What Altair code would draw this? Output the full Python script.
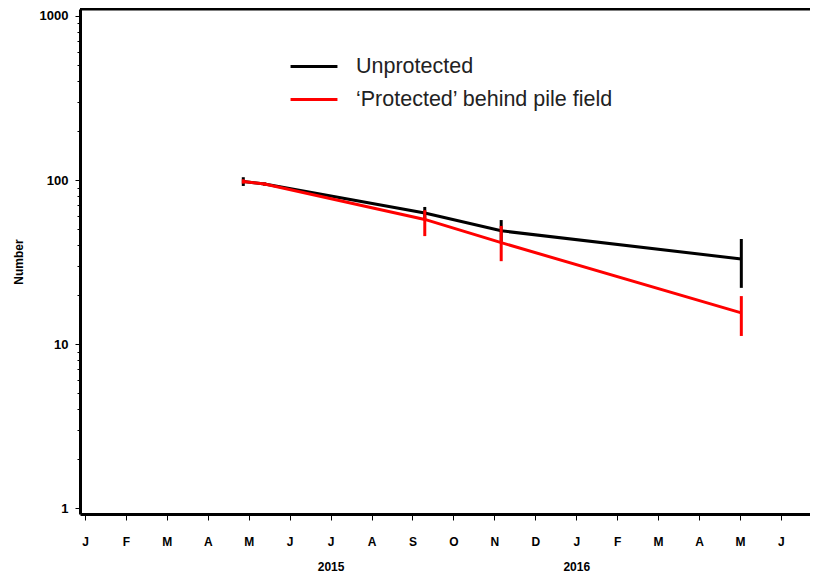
import altair as alt
import pandas as pd
import calendar

# ---- data ----
sample_dates = ["2015-04-27", "2015-05-13", "2015-09-10", "2015-11-06", "2016-05-02"]
series_names = ["Unprotected", "\u2018Protected\u2019 behind pile field"]
series_colors = ["#000000", "#ff0000"]

unprotected_mean = [98, 94.5, 63, 49, 33]
unprotected_lo = [92, 92.5, 57.5, 42, 22]
unprotected_hi = [104, 96.5, 68.5, 57, 43.7]

protected_mean = [98, 94.5, 57.5, 41.5, 15.5]
protected_lo = [95, 92.5, 45.5, 32, 11.2]
protected_hi = [101, 96.5, 65.5, 52.5, 19.6]

month_letters = ["J", "F", "M", "A", "M", "J", "J", "A", "S", "O", "N", "D"]
year_labels = {6: "2015", 12: "2016"}   # tick index -> year text under it
x_tick_values = list(range(0, 18))
y_tick_values = [m * 10 ** e for e in range(0, 3) for m in range(1, 10)] + [1000]
y_major = [1, 10, 100, 1000]


def month_index(d):
    y, m, day = (int(p) for p in d.split("-"))
    ndays = calendar.monthrange(y, m)[1]
    return (y - 2015) * 12 + (m - 1) + (day - 1) / ndays


rows = []
for name, mean, lo, hi in [
    (series_names[0], unprotected_mean, unprotected_lo, unprotected_hi),
    (series_names[1], protected_mean, protected_lo, protected_hi),
]:
    for d, v, l, h in zip(sample_dates, mean, lo, hi):
        rows.append({"series": name, "t": month_index(d), "value": v, "lo": l, "hi": h})
df = pd.DataFrame(rows)

PLOT_W = 730
PLOT_H = 505

x_scale = alt.Scale(domain=[-0.122, 17.71], nice=False, zero=False)
y_scale = alt.Scale(type="log", domain=[0.92, 1103], nice=False)
color_scale = alt.Scale(domain=series_names, range=series_colors)

# x-axis label expression (month letters, with year on a second line)
letters = "[" + ",".join(f"'{c}'" for c in month_letters) + "]"
x_expr = f"{letters}[datum.value % 12]"
for idx, yr in year_labels.items():
    x_expr = f"datum.value == {idx} ? [{letters}[{idx % 12}], '{yr}'] : ({x_expr})"

major_list = "[" + ",".join(str(v) for v in y_major) + "]"
major_test = f"indexof({major_list}, datum.value) >= 0"

x_axis = alt.Axis(
    values=x_tick_values,
    labelExpr=x_expr,
    title=None,
    grid=False,
    domainColor="black",
    domainWidth=3,
    tickColor="black",
    tickWidth=1,
    tickSize=6,
    labelPadding=16,
    labelFont="Liberation Sans",
    labelFontWeight="bold",
    labelFontSize=12,
    labelColor="black",
    labelLineHeight=25,
    labelFlush=False,
    labelOverlap=False,
)
y_axis = alt.Axis(
    values=y_tick_values,
    labelExpr=f"{major_test} ? format(datum.value, 'd') : ''",
    title="Number",
    titleFont="Liberation Sans",
    titleFontWeight="bold",
    titleFontSize=12,
    titleColor="black",
    titlePadding=14,
    grid=False,
    domainColor="black",
    domainWidth=3,
    tickColor="black",
    tickWidth=1,
    tickSize={"condition": {"test": major_test, "value": 5}, "value": 3},
    labelPadding=7,
    labelFont="Liberation Sans",
    labelFontWeight="bold",
    labelFontSize=13,
    labelColor="black",
    labelOverlap=False,
    labelFlush=False,
)

base = alt.Chart(df)

legend = alt.Legend(
    title=None,
    orient="none",
    legendX=209,
    legendY=41,
    symbolType="stroke",
    symbolStrokeWidth=3,
    symbolSize=2200,
    labelFont="Liberation Sans",
    labelFontSize=21.5,
    labelColor="#222222",
    labelOffset=17,
    labelLimit=0,
    clipHeight=33,
    rowPadding=0,
)

layers = []
for i, name in enumerate(series_names):
    sub = base.transform_filter(alt.datum.series == name)
    line = sub.mark_line(strokeWidth=3).encode(
        x=alt.X("t:Q", scale=x_scale, axis=x_axis),
        y=alt.Y("value:Q", scale=y_scale, axis=y_axis),
        color=alt.Color("series:N", scale=color_scale, legend=legend),
    )
    err = sub.mark_rule(strokeWidth=3).encode(
        x=alt.X("t:Q", scale=x_scale),
        y=alt.Y("lo:Q", scale=y_scale),
        y2="hi:Q",
        color=alt.Color("series:N", scale=color_scale, legend=None),
    )
    layers += [line, err]

top_border = alt.Chart(pd.DataFrame({"a": [0]})).mark_rule(
    color="black", strokeWidth=3
).encode(x=alt.value(0), x2=alt.value(PLOT_W), y=alt.value(0))

chart = (
    alt.layer(*layers, top_border)
    .properties(
        width=PLOT_W,
        height=PLOT_H,
        autosize=alt.AutoSizeParams(type="none"),
        padding={"left": 72, "top": 1, "right": 0, "bottom": 62},
    )
    .configure_view(stroke=None)
    .configure(background="white")
)

chart.save("out.html", embed_options={"renderer": "svg", "actions": False})
